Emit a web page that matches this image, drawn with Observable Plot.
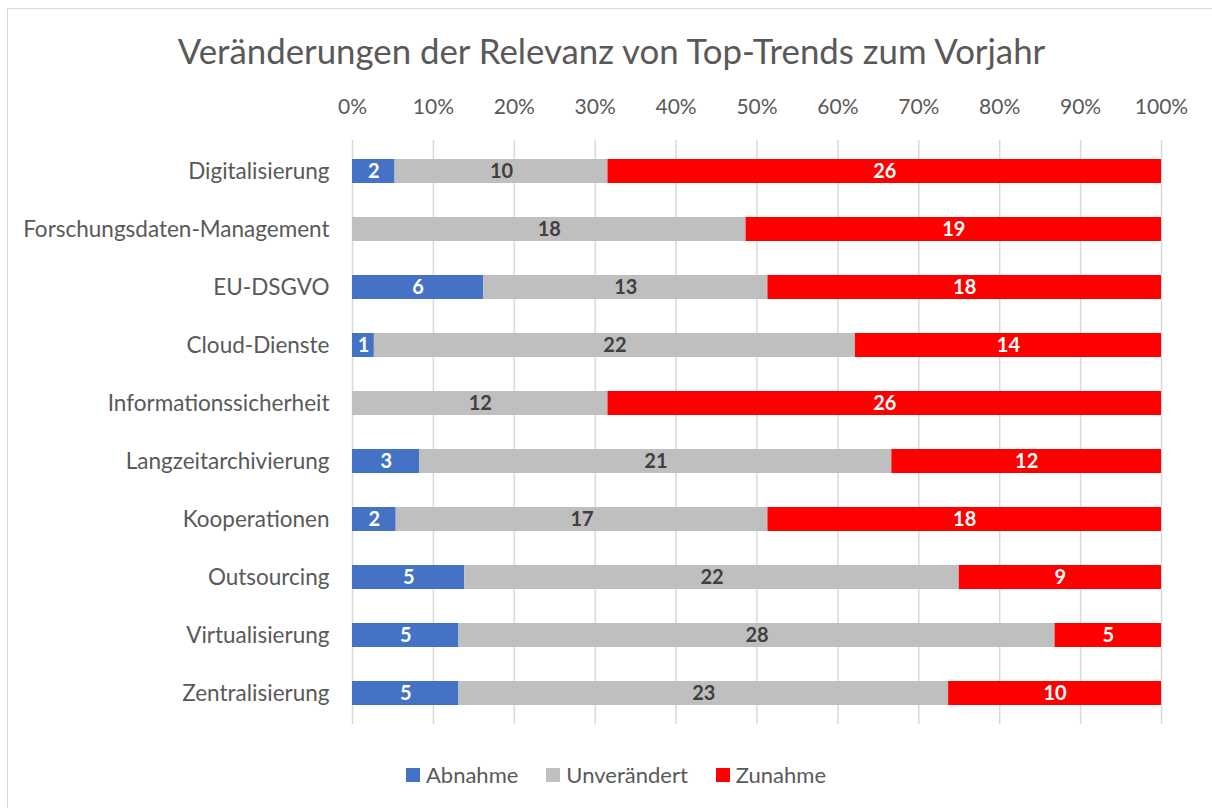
<!DOCTYPE html>
<html>
<head>
<meta charset="utf-8">
<script src="https://cdn.jsdelivr.net/npm/d3@7"></script>
<script src="https://cdn.jsdelivr.net/npm/@observablehq/plot@0.6"></script>
<style>
  body { margin: 0; background: #fff; font-family: Lato, "Open Sans", sans-serif; }
  #wrap { position: relative; width: 1212px; height: 808px; overflow: hidden; background: #fff; }
  #frame { position: absolute; left: 7px; top: 8px; width: 1260px; height: 860px; border: 1.5px solid #d9d9d9; box-sizing: border-box; }
  #title { position: absolute; left: 0; width: 1223px; top: 31px; text-align: center; font-size: 34.8px; line-height: 40px; color: #595959; }
  #chart { position: absolute; left: 0; top: 0; }
  #legend { position: absolute; top: 762px; left: 0; width: 1232px; display: flex; justify-content: center; gap: 28px; font-size: 22px; line-height: 26px; color: #595959; }
  #legend span.item { display: flex; align-items: center; gap: 6px; }
  #legend span.sw { display: inline-block; width: 14px; height: 14px; }
</style>
</head>
<body>
<div id="wrap">
  <div id="frame"></div>
  <div id="title">Veränderungen der Relevanz von Top-Trends zum Vorjahr</div>
  <div id="chart"></div>
  <div id="legend"></div>
</div>
<script>
const categories = ["Digitalisierung", "Forschungsdaten-Management", "EU-DSGVO", "Cloud-Dienste", "Informationssicherheit", "Langzeitarchivierung", "Kooperationen", "Outsourcing", "Virtualisierung", "Zentralisierung"];
const series = ["Abnahme", "Unverändert", "Zunahme"];
const abnahme      = [2, 0, 6, 1, 0, 3, 2, 5, 5, 5];
const unveraendert = [10, 18, 13, 22, 12, 21, 17, 22, 28, 23];
const zunahme      = [26, 19, 18, 14, 26, 12, 18, 9, 5, 10];
const colors = ["#4472c4", "#bfbfbf", "#ff0000"];
const labelColors = ["#ffffff", "#404040", "#ffffff"];
const xTicks = [0, 0.1, 0.2, 0.3, 0.4, 0.5, 0.6, 0.7, 0.8, 0.9, 1];

const valuesBySeries = [abnahme, unveraendert, zunahme];
const data = [];
series.forEach((s, si) => {
  categories.forEach((c, ci) => {
    data.push({ category: c, series: s, value: valuesBySeries[si][ci], si });
  });
});

const stackOpts = { x: "value", y: "category", z: "series", order: series, offset: "normalize" };
const font = "Lato, 'Open Sans', sans-serif";

const chart = Plot.plot({
  width: 1212,
  height: 740,
  marginLeft: 352,
  marginRight: 51,
  marginTop: 140,
  marginBottom: 16,
  style: { fontFamily: font, color: "#595959", background: "transparent" },
  x: { domain: [0, 1], label: null },
  y: { domain: categories, label: null, paddingInner: 0.59, paddingOuter: 0.295 },
  color: { domain: series, range: colors },
  marks: [
    Plot.ruleX(xTicks, { stroke: "#d9d9d9", strokeWidth: 1.5 }),
    Plot.axisX({ anchor: "top", ticks: xTicks, tickFormat: d3.format(".0%"), tickSize: 0, tickPadding: 27, fontSize: 21, fill: "#595959", label: null }),
    Plot.axisY({ tickSize: 0, tickPadding: 23, fontSize: 22.5, fill: "#595959", label: null }),
    Plot.barX(data, Plot.stackX({ ...stackOpts, fill: "series" })),
    Plot.text(data.filter(d => d.value > 0), Plot.stackX({
      ...stackOpts,
      text: d => String(d.value),
      fill: d => labelColors[d.si],
      fontWeight: "bold",
      fontSize: 20
    }))
  ]
});
document.getElementById("chart").appendChild(chart);

const legend = document.getElementById("legend");
series.forEach((s, i) => {
  const item = document.createElement("span");
  item.className = "item";
  item.innerHTML = `<span class="sw" style="background:${colors[i]}"></span><span>${s}</span>`;
  legend.appendChild(item);
});
</script>
</body>
</html>
